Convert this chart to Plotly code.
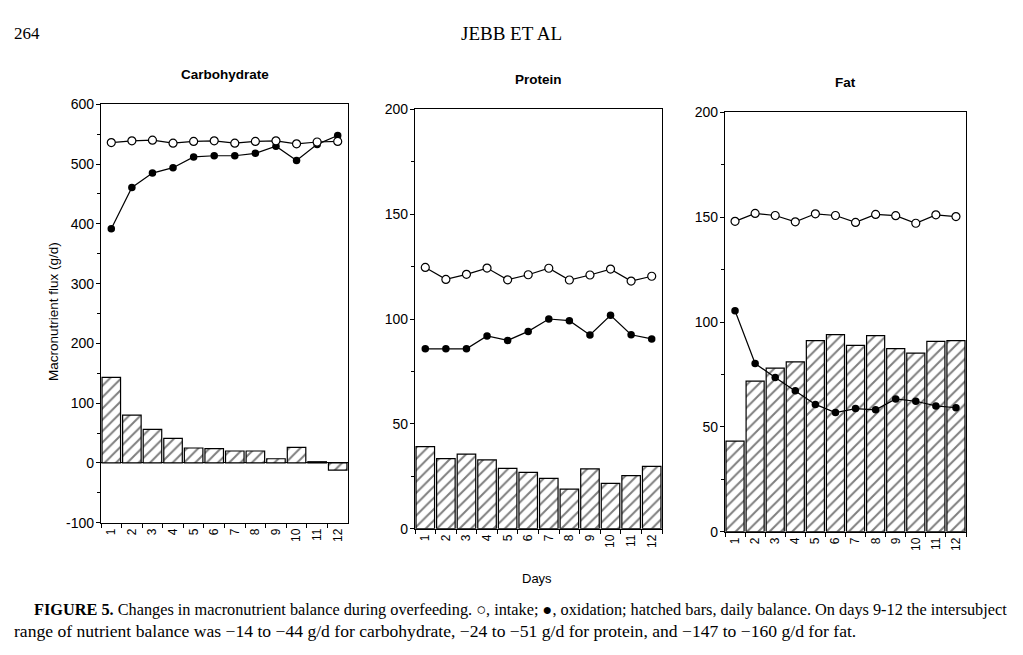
import plotly.graph_objects as go

days = [str(i) for i in range(1, 13)]

carb_intake = [536, 539, 540, 535, 538, 539, 535, 538, 539, 534, 537, 538]
carb_oxidation = [392, 461, 485, 494, 512, 514, 514, 518, 530, 506, 533, 548]
carb_balance = [143, 80, 56, 41, 25, 24, 20, 20, 7, 26, 2, -12]

prot_intake = [124.6, 118.9, 121.3, 124.3, 118.7, 121.1, 124.2, 118.6, 121.0, 123.8, 118.1, 120.4]
prot_oxidation = [85.8, 85.8, 85.8, 91.9, 89.8, 94.1, 100.0, 99.2, 92.4, 101.8, 92.5, 90.5]
prot_balance = [39.1, 33.4, 35.6, 32.8, 28.8, 26.9, 24.0, 18.9, 28.5, 21.6, 25.3, 29.7]

fat_intake = [148.0, 151.8, 150.8, 147.8, 151.6, 150.8, 147.5, 151.3, 150.7, 147.1, 151.1, 150.3]
fat_oxidation = [105.4, 80.2, 73.5, 67.2, 60.7, 56.8, 58.7, 58.1, 63.3, 62.2, 60.0, 59.1]
fat_balance = [43.2, 71.8, 78.0, 81.0, 91.1, 94.0, 88.9, 93.5, 87.3, 85.2, 90.8, 91.1]

panel_titles = ["Carbohydrate", "Protein", "Fat"]
y_ranges = [[-100, 600], [0, 200], [0, 200]]
y_tickvals = [[-100, 0, 100, 200, 300, 400, 500, 600],
              [0, 50, 100, 150, 200],
              [0, 50, 100, 150, 200]]
y_ticktext = [["-100", "0", "100", "200", "300", "400", "500", "600"],
              ["0", "50", "100", "150", "200"],
              ["0", "50", "100", "150", "200"]]
y_minor = [50, 25, 25]

W, H = 1023, 655
# the page is photographed with the figure drawn 640 px tall, centred
Y_OFF, Y_SCALE = 7.5, 640 / 655


def px_y(y):
    """target screen pixel row -> paper fraction"""
    return 1 - ((y - Y_OFF) / Y_SCALE) / H


# pixel boxes of the three plot areas: (left, right, top, bottom)
boxes = [(101, 348, 104, 523), (415, 662, 109, 529), (725, 966, 112, 532)]

SANS = "Liberation Sans, Arial, sans-serif"
SERIF = "Liberation Serif, Times New Roman, serif"

fig = go.Figure()

series = [
    (carb_intake, carb_oxidation, carb_balance),
    (prot_intake, prot_oxidation, prot_balance),
    (fat_intake, fat_oxidation, fat_balance),
]

for i, (intake, oxid, bal) in enumerate(series):
    xa = "x" if i == 0 else f"x{i+1}"
    ya = "y" if i == 0 else f"y{i+1}"
    fig.add_trace(go.Bar(
        x=days, y=bal, xaxis=xa, yaxis=ya,
        marker=dict(color="white",
                    line=dict(color="black", width=1.2),
                    pattern=dict(shape="/", fgcolor="black", bgcolor="white",
                                 size=8, solidity=0.25, fillmode="overlay")),
        showlegend=False,
    ))
    fig.add_trace(go.Scatter(
        x=days, y=oxid, xaxis=xa, yaxis=ya, mode="lines+markers",
        line=dict(color="black", width=1.2),
        marker=dict(symbol="circle", size=7.5, color="black"),
        showlegend=False,
    ))
    fig.add_trace(go.Scatter(
        x=days, y=intake, xaxis=xa, yaxis=ya, mode="lines+markers",
        line=dict(color="black", width=1.2),
        marker=dict(symbol="circle", size=8, color="white",
                    line=dict(color="black", width=1.2)),
        showlegend=False,
    ))

layout = dict(
    width=W, height=H, autosize=False,
    margin=dict(l=0, r=0, t=0, b=0, pad=0),
    paper_bgcolor="white", plot_bgcolor="white",
    bargap=0.1,
    font=dict(family=SANS, color="black"),
    annotations=[],
)

for i, (l, r, t, b) in enumerate(boxes):
    sfx = "" if i == 0 else str(i + 1)
    layout["xaxis" + sfx] = dict(
        domain=[l / W, r / W],
        anchor="y" + sfx,
        type="category",
        range=[-0.5, 11.5],
        showline=True, linecolor="black", linewidth=1.2, mirror=True,
        ticks="outside", ticklen=4, tickcolor="black", tickwidth=1,
        tickson="boundaries",
        tickangle=-90,
        tickfont=dict(size=12, family=SANS),
        showgrid=False, fixedrange=True,
    )
    layout["yaxis" + sfx] = dict(
        domain=[px_y(b), px_y(t)],
        anchor="x" + sfx,
        range=y_ranges[i],
        tickmode="array", tickvals=y_tickvals[i], ticktext=y_ticktext[i],
        showline=True, linecolor="black", linewidth=1.2, mirror=True,
        ticks="outside", ticklen=4, tickcolor="black", tickwidth=1,
        ticklabelstandoff=-1,
        minor=dict(tick0=0, dtick=y_minor[i], ticks="outside", ticklen=3,
                   tickcolor="black", showgrid=False),
        tickfont=dict(size=14, family=SANS),
        showgrid=False,
        zeroline=(i == 0), zerolinecolor="black", zerolinewidth=1.2,
        fixedrange=True,
    )
    layout["annotations"].append(dict(
        text="<b>" + panel_titles[i] + "</b>",
        x=(l + r) / 2 / W, y=px_y(t - 30),
        xref="paper", yref="paper", showarrow=False,
        font=dict(size=13.5, family=SANS),
        xanchor="center", yanchor="middle",
    ))

layout["annotations"] += [
    dict(text="Macronutrient flux (g/d)", x=53 / W, y=px_y(312),
         xref="paper", yref="paper", showarrow=False, textangle=-90,
         font=dict(size=13.5), xanchor="center", yanchor="middle"),
    dict(text="Days", x=537 / W, y=px_y(579),
         xref="paper", yref="paper", showarrow=False,
         font=dict(size=13), xanchor="center", yanchor="middle"),
    dict(text="264", x=12 / W, y=px_y(33),
         xref="paper", yref="paper", showarrow=False,
         font=dict(size=17, family=SERIF),
         xanchor="left", yanchor="middle"),
    dict(text="JEBB ET AL", x=511 / W, y=px_y(33),
         xref="paper", yref="paper", showarrow=False,
         font=dict(size=19, family=SERIF),
         xanchor="center", yanchor="middle"),
    dict(text="<b>FIGURE 5.</b> Changes in macronutrient balance during overfeeding. ○, intake; ●, oxidation; "
              "hatched bars, daily balance. On days 9-12 the intersubject",
         x=32 / W, y=px_y(610),
         xref="paper", yref="paper", showarrow=False,
         font=dict(size=16.3, family=SERIF),
         xanchor="left", yanchor="middle"),
    dict(text="range of nutrient balance was −14 to −44 g/d for carbohydrate, −24 to −51 g/d for protein, "
              "and −147 to −160 g/d for fat.",
         x=12 / W, y=px_y(631),
         xref="paper", yref="paper", showarrow=False,
         font=dict(size=17.6, family=SERIF),
         xanchor="left", yanchor="middle"),
]

fig.update_layout(**layout)
fig.write_html(
    "out.html",
    config={"displayModeBar": False},
    post_script="document.body.style.margin='0';document.body.style.padding='0';"
                "document.body.style.overflow='hidden';",
)
